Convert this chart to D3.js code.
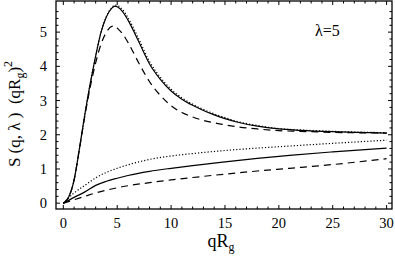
<!DOCTYPE html>
<html>
<head>
<meta charset="utf-8">
<script src="https://cdn.jsdelivr.net/npm/d3@7"></script>
<style>
  body { margin:0; background:#fff; }
</style>
</head>
<body>
<svg id="chart" width="395" height="257" font-family="'Liberation Serif', 'Liberation Sans', Arial, sans-serif"></svg>
<script>
"use strict";

// q values per curve and S(q,λ)(qRg)^2 values
const qUp = [0,0.5,1,1.5,2,2.5,3,3.5,4,4.5,4.8,5,5.5,6,7,8,9,10,11,12,13,14,15,16,18,20,22,25,30];
const upSolid  = [0,0.18,0.68,1.6,2.6,3.5,4.3,5.0,5.45,5.7,5.76,5.74,5.6,5.35,4.72,4.07,3.62,3.28,3.04,2.86,2.71,2.58,2.47,2.38,2.25,2.17,2.13,2.09,2.05];
const upDotted = [0,0.18,0.68,1.6,2.6,3.5,4.3,5.0,5.46,5.72,5.79,5.78,5.66,5.42,4.8,4.14,3.68,3.33,3.08,2.89,2.74,2.61,2.5,2.4,2.27,2.18,2.14,2.1,2.06];
const upDashed = [0,0.18,0.68,1.6,2.55,3.4,4.1,4.65,5.0,5.17,5.18,5.12,4.95,4.7,4.1,3.55,3.15,2.85,2.65,2.52,2.42,2.35,2.29,2.24,2.17,2.12,2.1,2.07,2.05];

const qLow = [0,1,2,3,4,5,6,8,10,12,15,18,21,25,30];
const lowDotted = [0,0.3,0.52,0.74,0.9,1.02,1.12,1.28,1.38,1.45,1.54,1.61,1.67,1.75,1.84];
const lowSolid  = [0,0.17,0.33,0.52,0.64,0.73,0.81,0.93,1.02,1.1,1.21,1.31,1.4,1.5,1.61];
const lowDashed = [0,0.1,0.2,0.3,0.38,0.45,0.51,0.6,0.68,0.75,0.85,0.94,1.02,1.13,1.3];

const xTicks = [0,5,10,15,20,25,30];
const yTicks = [0,1,2,3,4,5];

const svg = d3.select("#chart");
const L = 56, R = 392, T = 1, B = 209;

const x = d3.scaleLinear().domain([-0.68, 30.5]).range([L, R]);
const y = d3.scaleLinear().domain([-0.17, 5.91]).range([B, T]);

// frame
svg.append("rect").attr("x", L).attr("y", T).attr("width", R - L).attr("height", B - T)
  .attr("fill", "none").attr("stroke", "#000").attr("stroke-width", 1.3);

// inward ticks on all four sides
const tk = svg.append("g").attr("stroke", "#000").attr("stroke-width", 1);
d3.range(0, 31, 1).forEach(v => {
  const len = v % 5 === 0 ? 4 : 2.5;
  tk.append("line").attr("x1", x(v)).attr("x2", x(v)).attr("y1", B).attr("y2", B - len);
  tk.append("line").attr("x1", x(v)).attr("x2", x(v)).attr("y1", T).attr("y2", T + len);
});
d3.range(0, 29).map(i => i * 0.2).forEach((v, i) => {
  const len = i % 5 === 0 ? 4 : 2.5;
  tk.append("line").attr("y1", y(v)).attr("y2", y(v)).attr("x1", L).attr("x2", L + len);
  tk.append("line").attr("y1", y(v)).attr("y2", y(v)).attr("x1", R).attr("x2", R - len);
});

// tick labels
svg.append("g").selectAll("text").data(xTicks).join("text")
  .attr("x", d => x(d)).attr("y", 228).attr("text-anchor", "middle")
  .attr("font-size", 14.5).text(d => d);
svg.append("g").selectAll("text").data(yTicks).join("text")
  .attr("x", 47).attr("y", d => y(d) + 5).attr("text-anchor", "end")
  .attr("font-size", 14.5).text(d => d);

// curves
const line = d3.line().x(d => x(d[0])).y(d => y(d[1])).curve(d3.curveMonotoneX);
const curves = [
  [qUp, upSolid, null],
  [qUp, upDotted, "1.2,2"],
  [qUp, upDashed, "7,5"],
  [qLow, lowDotted, "1.2,2"],
  [qLow, lowSolid, null],
  [qLow, lowDashed, "7,5"]
];
curves.forEach(([qs, vs, dash]) => {
  svg.append("path").datum(qs.map((q, i) => [q, vs[i]]))
    .attr("d", line).attr("fill", "none").attr("stroke", "#000")
    .attr("stroke-width", 1.2).attr("stroke-dasharray", dash);
});

// axis titles
const xl = svg.append("text").attr("x", 221).attr("y", 247).attr("text-anchor", "middle")
  .attr("font-size", 18);
xl.append("tspan").text("qR");
xl.append("tspan").attr("font-size", 12).attr("dy", 4).text("g");

const yl = svg.append("text").attr("transform", "translate(20,114) rotate(-90)")
  .attr("text-anchor", "middle").attr("font-size", 17);
yl.append("tspan").text("S (q, λ )\u00a0 (qR");
yl.append("tspan").attr("font-size", 12).attr("dy", 4).text("g");
yl.append("tspan").attr("dy", -4).text(")");
yl.append("tspan").attr("font-size", 12).attr("dy", -8).text("2");

svg.append("text").attr("x", 315).attr("y", 36).attr("font-size", 16).text("λ=5");
</script>
</body>
</html>
